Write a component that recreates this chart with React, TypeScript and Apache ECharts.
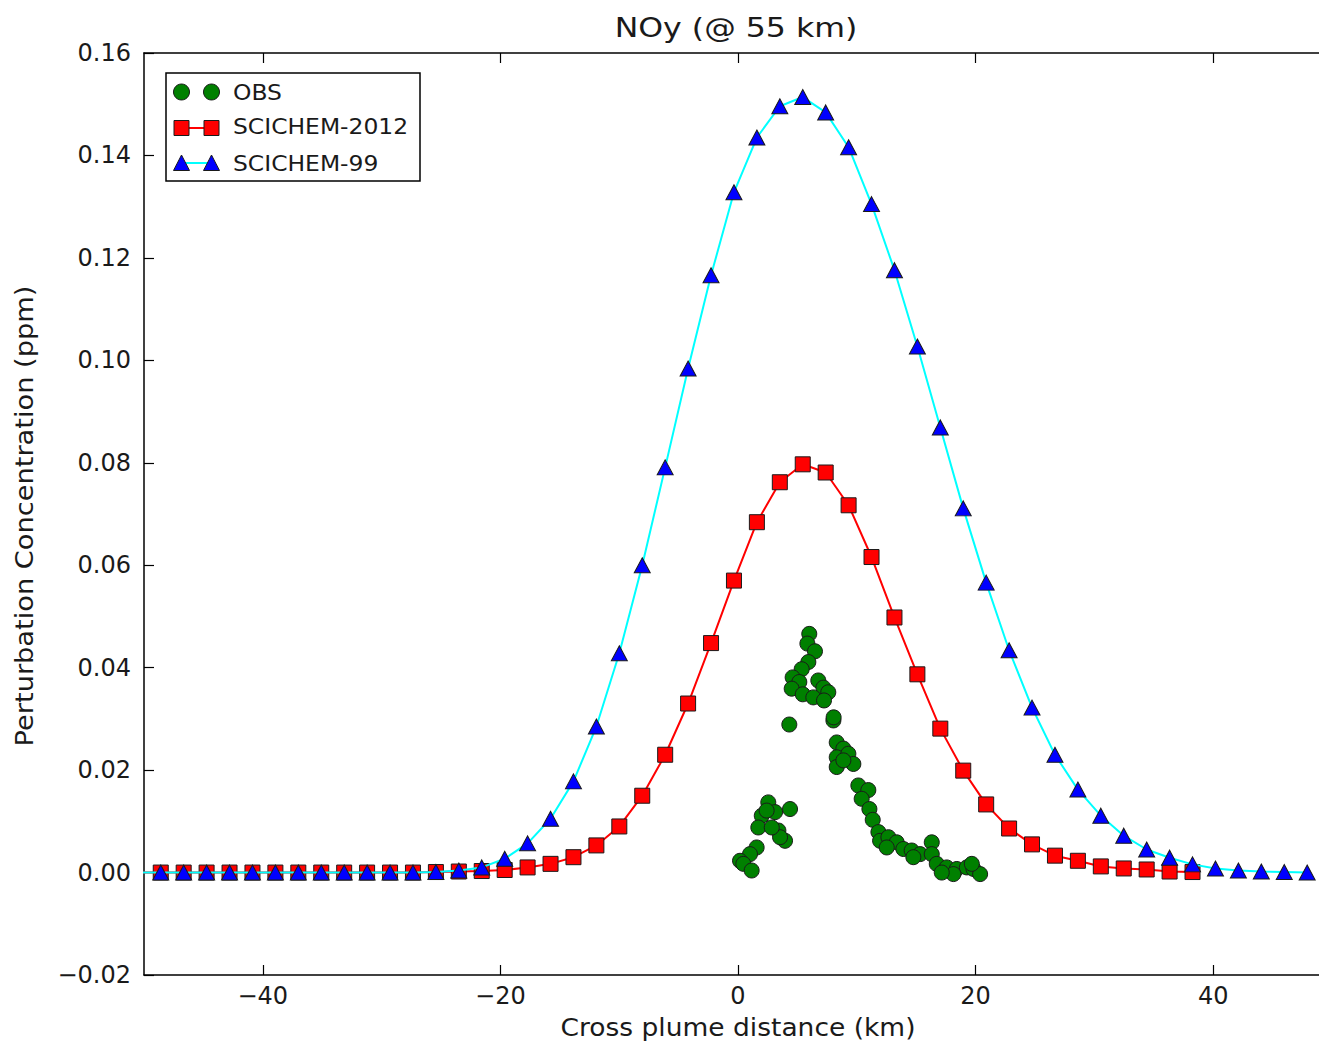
import React, { useEffect, useRef } from "react";
import * as echarts from "echarts";

// Model x positions (km)
const modelX = [
  -50.52, -48.59, -46.66, -44.73, -42.8, -40.87, -38.94, -37.01, -35.08, -33.15,
  -31.22, -29.29, -27.36, -25.43, -23.5, -21.57, -19.64, -17.71, -15.78, -13.85,
  -11.92, -9.99, -8.06, -6.13, -4.2, -2.27, -0.34, 1.59, 3.52, 5.45,
  7.38, 9.31, 11.24, 13.17, 15.1, 17.03, 18.96, 20.89, 22.82, 24.75,
  26.68, 28.61, 30.54, 32.47, 34.4, 36.33, 38.26, 40.19, 42.12, 44.05,
  45.98, 47.91,
];

// SCICHEM-2012 values (first 47 model positions)
const scichem2012 = [
  0, 0, 0, 0, 0, 0, 0, 0, 0, 0,
  0, 0, 0, 0.0001, 0.0002, 0.0003, 0.0005, 0.001, 0.0017, 0.003,
  0.0053, 0.009, 0.015, 0.023, 0.033, 0.0448, 0.057, 0.0684, 0.0762, 0.0797,
  0.0781, 0.0717, 0.0616, 0.0498, 0.0387, 0.0281, 0.0199, 0.0133, 0.0086, 0.0055,
  0.0033, 0.0023, 0.0012, 0.0008, 0.0006, 0.0002, 0.0001,
];

// SCICHEM-99 values (all 52 model positions)
const scichem99 = [
  0, 0, 0, 0, 0, 0, 0, 0, 0, 0,
  0, 0, 0, 0.0001, 0.0004, 0.001, 0.0027, 0.0057, 0.0105, 0.0178,
  0.0285, 0.0428, 0.06, 0.0791, 0.0984, 0.1166, 0.1328, 0.1435, 0.1496, 0.1514,
  0.1484, 0.1416, 0.1305, 0.1176, 0.1027, 0.0869, 0.0711, 0.0566, 0.0434, 0.0322,
  0.023, 0.0162, 0.0111, 0.0072, 0.0045, 0.0029, 0.0016, 0.0008, 0.0004, 0.0002,
  0.0001, 0,
];

// Observations: x (km)
const obsX = [
  6.0, 5.84, 6.48, 5.92, 5.36, 4.6, 5.16, 4.52, 5.45, 6.76,
  7.19, 7.6, 6.34, 7.24, 4.32, 8.03, 8.05, 8.31, 8.87, 8.31,
  9.29, 9.71, 8.31, 8.87, 10.13, 10.97, 10.41, 11.06, 11.34, 11.82,
  11.96, 12.66, 13.36, 12.52, 13.92, 14.62, 15.33, 16.31, 16.31, 14.76,
  16.73, 17.57, 18.42, 19.26, 19.82, 20.38, 18.13, 17.15, 19.68, 2.55,
  4.38, 3.12, 2.0, 1.71, 3.4, 3.96, 3.54, 1.57, 1.01, 0.17,
  0.45, 1.15, 2.41, 2.84,
];
// Observations: concentration (ppm)
const obsY = [
  0.0466, 0.0447, 0.0432, 0.0411, 0.0397, 0.0381, 0.0372, 0.0359, 0.0348, 0.0375,
  0.0361, 0.0352, 0.0342, 0.0336, 0.0289, 0.0297, 0.0303, 0.0254, 0.0242, 0.0225,
  0.0232, 0.0212, 0.0206, 0.0219, 0.017, 0.0161, 0.0144, 0.0124, 0.0103, 0.0079,
  0.0062, 0.0069, 0.0059, 0.0049, 0.0046, 0.0043, 0.0036, 0.0059, 0.0036, 0.003,
  0.0017, 0.001, 0.0007, 0.001, 0.0007, -0.0003, -0.0003, 0.0, 0.0017, 0.0137,
  0.0124, 0.0118, 0.0111, 0.0088, 0.0082, 0.0062, 0.0069, 0.0049, 0.0036, 0.0023,
  0.0017, 0.0004, 0.0121, 0.0088,
];

const xTicks = [-40, -20, 0, 20, 40];
const seriesNames = ["OBS", "SCICHEM-2012", "SCICHEM-99"];
const titleText = "NOy (@ 55 km)";
const xName = "Cross plume distance (km)";
const yName = "Perturbation Concentration (ppm)";

const FONT = "DejaVu Sans";

const fmtX = (v: number) => (v < 0 ? "\u2212" + Math.abs(v) : String(v));
const fmtY = (v: number) => (v < -1e-9 ? "\u2212" : "") + Math.abs(v).toFixed(2);

export default function App() {
  const ref = useRef<HTMLDivElement>(null);
  useEffect(() => {
    if (!ref.current) return;
    const chart = echarts.init(ref.current, undefined, { renderer: "svg" });

    const obsData = obsX.map((x, i) => [x, obsY[i]]);
    const d2012 = scichem2012.map((y, i) => [modelX[i], y]);
    const d99 = scichem99.map((y, i) => [modelX[i], y]);

    const axisLineStyle = { color: "#000", width: 1.5 };
    const tickStyle = { color: "#000", width: 1.2 };

    const lx1 = 181.5;
    const lx2 = 211.5;
    const ly = [92, 128, 163];
    const edge = "#1a1a1a";
    const txt = "#1a1a1a";

    chart.setOption({
      animation: false,
      backgroundColor: "#fff",
      grid: {
        left: 144,
        right: 8,
        top: 53,
        bottom: 72,
        containLabel: false,
        outerBoundsMode: "none",
      },
      xAxis: [
        {
          type: "value",
          min: -50,
          max: 50,
          position: "bottom",
          axisLine: { show: true, onZero: false, lineStyle: axisLineStyle },
          axisTick: { show: true, inside: true, length: 10, lineStyle: tickStyle, customValues: xTicks },
          axisLabel: {
            show: true,
            customValues: xTicks,
            formatter: fmtX,
            fontFamily: FONT,
            fontSize: 24,
            color: txt,
            margin: 9,
          },
          splitLine: { show: false },
        },
        {
          type: "value",
          min: -50,
          max: 50,
          position: "top",
          axisLine: { show: true, onZero: false, lineStyle: axisLineStyle },
          axisTick: { show: true, inside: true, length: 10, lineStyle: tickStyle, customValues: xTicks },
          axisLabel: { show: false },
          splitLine: { show: false },
        },
      ],
      yAxis: [
        {
          type: "value",
          min: -0.02,
          max: 0.16,
          interval: 0.02,
          position: "left",
          axisLine: { show: true, onZero: false, lineStyle: axisLineStyle },
          axisTick: { show: true, inside: true, length: 10, lineStyle: tickStyle },
          axisLabel: {
            formatter: fmtY,
            fontFamily: FONT,
            fontSize: 24,
            color: txt,
            margin: 13,
          },
          splitLine: { show: false },
        },
        {
          type: "value",
          min: -0.02,
          max: 0.16,
          interval: 0.02,
          position: "right",
          axisLine: { show: true, onZero: false, lineStyle: axisLineStyle },
          axisTick: { show: true, inside: true, length: 10, lineStyle: tickStyle },
          axisLabel: { show: false },
          splitLine: { show: false },
        },
      ],
      series: [
        {
          name: seriesNames[0],
          type: "scatter",
          xAxisIndex: 0,
          yAxisIndex: 0,
          data: obsData,
          symbol: "circle",
          symbolSize: 15,
          itemStyle: { color: "#008000", borderColor: edge, borderWidth: 1, opacity: 1 },
          z: 2,
        },
        {
          name: seriesNames[1],
          type: "line",
          xAxisIndex: 0,
          yAxisIndex: 0,
          data: d2012,
          symbol: "rect",
          symbolSize: 15,
          showAllSymbol: true,
          lineStyle: { color: "#ff0000", width: 2 },
          itemStyle: { color: "#ff0000", borderColor: edge, borderWidth: 1 },
          clip: true,
          z: 3,
        },
        {
          name: seriesNames[2],
          type: "line",
          xAxisIndex: 0,
          yAxisIndex: 0,
          data: d99,
          symbol: "triangle",
          symbolSize: [16, 15],
          showAllSymbol: true,
          lineStyle: { color: "#00ffff", width: 2 },
          itemStyle: { color: "#0000ff", borderColor: edge, borderWidth: 1 },
          clip: true,
          z: 4,
        },
      ],
      graphic: [
        {
          type: "text",
          x: 736,
          y: 28,
          scaleX: 1.17,
          style: {
            text: titleText,
            fontFamily: FONT,
            fontSize: 27,
            fill: txt,
            textAlign: "center",
            textVerticalAlign: "middle",
          },
          z: 10,
        },
        {
          type: "text",
          x: 738,
          y: 1027,
          scaleX: 1.06,
          style: {
            text: xName,
            fontFamily: FONT,
            fontSize: 25,
            fill: txt,
            textAlign: "center",
            textVerticalAlign: "middle",
          },
          z: 10,
        },
        {
          type: "text",
          x: 24,
          y: 516,
          rotation: Math.PI / 2,
          scaleX: 1.09,
          style: {
            text: yName,
            fontFamily: FONT,
            fontSize: 25,
            fill: txt,
            textAlign: "center",
            textVerticalAlign: "middle",
          },
          z: 10,
        },
        {
          type: "rect",
          shape: { x: 166, y: 73, width: 254, height: 108 },
          style: { fill: "#fff", stroke: "#000", lineWidth: 1.5 },
          z: 20,
        },
        // OBS legend entry
        { type: "circle", shape: { cx: lx1, cy: ly[0], r: 8 }, style: { fill: "#008000", stroke: edge, lineWidth: 1 }, z: 21 },
        { type: "circle", shape: { cx: lx2, cy: ly[0], r: 8 }, style: { fill: "#008000", stroke: edge, lineWidth: 1 }, z: 21 },
        // SCICHEM-2012
        { type: "line", shape: { x1: lx1, y1: ly[1], x2: lx2, y2: ly[1] }, style: { stroke: "#ff0000", lineWidth: 2 }, z: 21 },
        { type: "rect", shape: { x: lx1 - 7.5, y: ly[1] - 7.5, width: 15, height: 15 }, style: { fill: "#ff0000", stroke: edge, lineWidth: 1 }, z: 22 },
        { type: "rect", shape: { x: lx2 - 7.5, y: ly[1] - 7.5, width: 15, height: 15 }, style: { fill: "#ff0000", stroke: edge, lineWidth: 1 }, z: 22 },
        // SCICHEM-99
        { type: "line", shape: { x1: lx1, y1: ly[2], x2: lx2, y2: ly[2] }, style: { stroke: "#00ffff", lineWidth: 2 }, z: 21 },
        {
          type: "polygon",
          shape: { points: [[lx1, ly[2] - 8], [lx1 - 8, ly[2] + 7.5], [lx1 + 8, ly[2] + 7.5]] },
          style: { fill: "#0000ff", stroke: edge, lineWidth: 1 },
          z: 22,
        },
        {
          type: "polygon",
          shape: { points: [[lx2, ly[2] - 8], [lx2 - 8, ly[2] + 7.5], [lx2 + 8, ly[2] + 7.5]] },
          style: { fill: "#0000ff", stroke: edge, lineWidth: 1 },
          z: 22,
        },
        ...seriesNames.map((n, i) => ({
          type: "text",
          x: 233,
          y: ly[i] - (i === 1 ? 2 : 0),
          scaleX: 1.065,
          style: {
            text: n,
            fontFamily: FONT,
            fontSize: 22,
            fill: txt,
            textAlign: "left",
            textVerticalAlign: "middle",
          },
          z: 23,
        })),
      ],
    });
    return () => chart.dispose();
  }, []);

  return (
    <div
      style={{
        position: "fixed",
        left: 0,
        top: 0,
        width: 1319,
        height: 1047,
        overflow: "hidden",
        background: "#fff",
      }}
    >
      <div ref={ref} style={{ width: 1340, height: 1047 }} />
    </div>
  );
}
